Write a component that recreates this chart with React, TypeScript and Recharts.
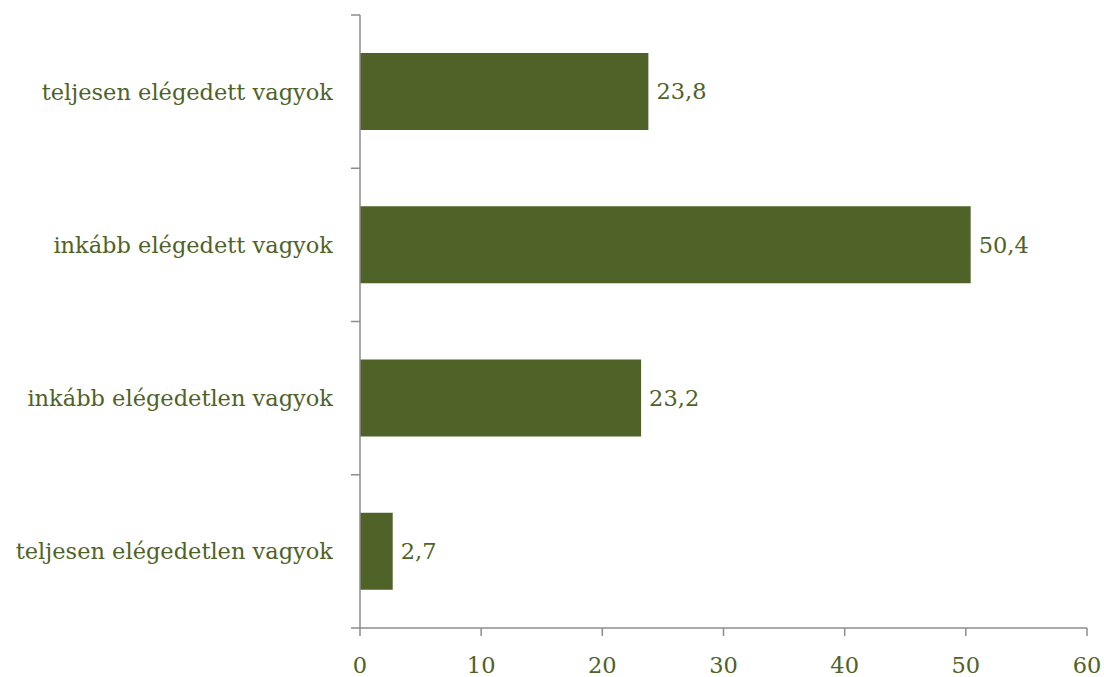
import React from "react";
import { BarChart, Bar, XAxis, YAxis, LabelList } from "recharts";

const categories = [
  "teljesen elégedett vagyok",
  "inkább elégedett vagyok",
  "inkább elégedetlen vagyok",
  "teljesen elégedetlen vagyok",
];
const values = [23.8, 50.4, 23.2, 2.7];
const xTicks = [0, 10, 20, 30, 40, 50, 60];

const data = categories.map((name, i) => ({ name, value: values[i] }));

const TEXT = "#4F6228";
const BAR = "#4F6228";
const AXIS = "#8C8C8C";
const FONT = "'DejaVu Serif', serif";
const FS = 22.5;

const CatTick = (props: any) => {
  const { x, y, payload, index } = props;
  const off = payload && typeof payload.offset === "number" ? payload.offset : 0;
  const ax = x + 27;
  return (
    <g>
      <text
        x={x}
        y={y}
        textAnchor="end"
        dominantBaseline="central"
        fill={TEXT}
        fontFamily={FONT}
        fontSize={FS}
      >
        {payload.value}
      </text>
      <line x1={ax - 9} x2={ax} y1={y - off} y2={y - off} stroke={AXIS} strokeWidth={1.5} />
      {index === categories.length - 1 ? (
        <line x1={ax - 9} x2={ax} y1={y + off} y2={y + off} stroke={AXIS} strokeWidth={1.5} />
      ) : null}
    </g>
  );
};

export default function App() {
  return (
    <div style={{ position: "absolute", left: 0, top: 0, background: "#fff" }}>
      <BarChart
        width={1104}
        height={677}
        data={data}
        layout="vertical"
        margin={{ top: 15, right: 17, bottom: 0, left: 0 }}
        barSize={77}
      >
        <XAxis
          type="number"
          domain={[0, 60]}
          ticks={xTicks}
          interval={0}
          height={49}
          tickSize={8}
          tickMargin={21}
          axisLine={{ stroke: AXIS, strokeWidth: 1.5 }}
          tickLine={{ stroke: AXIS, strokeWidth: 1.5 }}
          tick={{ fill: TEXT, fontFamily: FONT, fontSize: FS }}
        />
        <YAxis
          type="category"
          dataKey="name"
          width={360}
          tickSize={9}
          tickMargin={18}
          tickLine={false}
          axisLine={{ stroke: AXIS, strokeWidth: 1.5 }}
          tick={<CatTick />}
          interval={0}
        />
        <Bar dataKey="value" fill={BAR} isAnimationActive={false}>
          <LabelList
            dataKey="value"
            position="right"
            offset={8}
            fill={TEXT}
            fontFamily={FONT}
            fontSize={FS}
            formatter={(v: any) => String(v).replace(".", ",")}
          />
        </Bar>
      </BarChart>
    </div>
  );
}
